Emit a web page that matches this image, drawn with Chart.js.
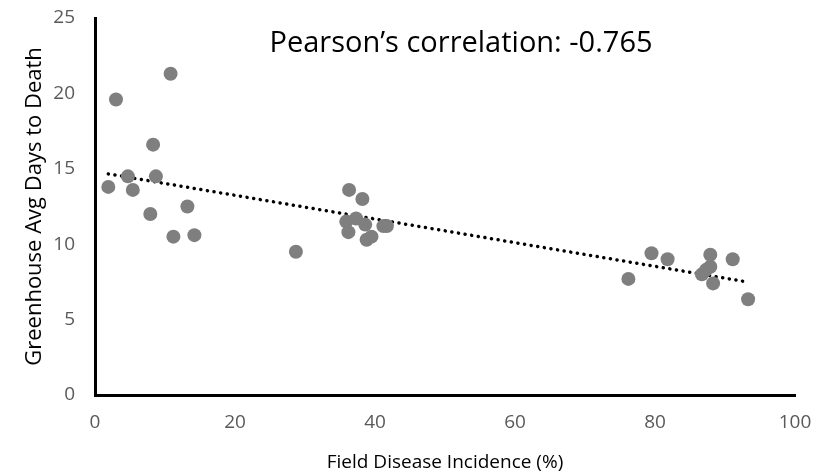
<!DOCTYPE html>
<html>
<head>
<meta charset="utf-8">
<title>Field vs Greenhouse</title>
<script src="https://cdn.jsdelivr.net/npm/chart.js@4"></script>
<style>
  html, body { margin: 0; padding: 0; background: #fff; }
  #wrap { width: 832px; height: 474px; }
</style>
</head>
<body>
<div id="wrap"><canvas id="chart" width="832" height="474"></canvas></div>
<script>
  // Data
  const incidence = [1.9, 3.0, 4.7, 5.4, 7.9, 8.3, 8.7, 10.8, 11.2, 13.2, 14.2,
    28.7, 36.3, 38.2, 35.9, 36.2, 37.3, 38.6, 38.8, 39.5, 41.2, 41.7,
    76.2, 79.5, 81.8, 86.7, 87.3, 87.9, 87.9, 88.3, 91.1, 93.3];
  const daysToDeath = [13.8, 19.6, 14.5, 13.6, 12.0, 16.6, 14.5, 21.3, 10.5, 12.5, 10.6,
    9.5, 13.6, 13.0, 11.5, 10.8, 11.7, 11.3, 10.3, 10.5, 11.2, 11.2,
    7.7, 9.4, 9.0, 8.0, 8.3, 8.5, 9.3, 7.4, 9.0, 6.35];
  const xTicks = [0, 20, 40, 60, 80, 100];
  const yTicks = [0, 5, 10, 15, 20, 25];
  const note = 'Pearson\u2019s correlation: -0.765';

  const points = incidence.map((x, i) => ({ x, y: daysToDeath[i] }));

  // least-squares fit for the dotted trendline
  function linearFit(xs, ys) {
    const n = xs.length;
    const mx = xs.reduce((s, v) => s + v, 0) / n;
    const my = ys.reduce((s, v) => s + v, 0) / n;
    let sxy = 0, sxx = 0;
    xs.forEach((x, i) => { sxy += (x - mx) * (ys[i] - my); sxx += (x - mx) * (x - mx); });
    const b = sxy / sxx;
    return { a: my - b * mx, b };
  }
  const fit = linearFit(incidence, daysToDeath);
  const xMin = Math.min(...incidence), xMax = Math.max(...incidence);
  const trend = [xMin, xMax].map(x => ({ x, y: fit.a + fit.b * x }));

  const fontFam = '"Open Sans", "DejaVu Sans", sans-serif';

  const notePlugin = {
    id: 'note',
    afterDraw(chart) {
      const ctx = chart.ctx;
      ctx.save();
      ctx.font = '29px ' + fontFam;
      ctx.fillStyle = '#000';
      ctx.textAlign = 'center';
      ctx.textBaseline = 'middle';
      ctx.fillText(note, 461, 44);
      ctx.restore();
    }
  };

  new Chart(document.getElementById('chart').getContext('2d'), {
    type: 'scatter',
    data: {
      datasets: [
        {
          label: 'data',
          data: points,
          backgroundColor: '#7f7f7f',
          borderColor: '#7f7f7f',
          pointRadius: 7,
          pointHoverRadius: 7,
          borderWidth: 0
        },
        {
          label: 'trend',
          type: 'line',
          data: trend,
          showLine: true,
          borderColor: '#000',
          borderWidth: 3.5,
          borderDash: [0.1, 6.6],
          borderCapStyle: 'round',
          pointRadius: 0,
          fill: false
        }
      ]
    },
    options: {
      responsive: false,
      animation: false,
      layout: { padding: { top: 18, right: 37, left: 22, bottom: 0 } },
      plugins: {
        legend: { display: false },
        tooltip: { enabled: false }
      },
      scales: {
        x: {
          type: 'linear',
          min: 0, max: 100,
          afterBuildTicks: s => { s.ticks = xTicks.map(v => ({ value: v })); },
          afterFit: s => { s.height = 79; },
          grid: { display: false },
          border: { display: true, color: '#000', width: 3 },
          ticks: { color: '#595959', font: { family: fontFam, size: 19 }, padding: 8 },
          title: {
            display: true,
            text: 'Field Disease Incidence (%)',
            color: '#000',
            font: { family: fontFam, size: 19 },
            padding: { top: 3, bottom: 0 }
          }
        },
        y: {
          type: 'linear',
          min: 0, max: 25,
          afterBuildTicks: s => { s.ticks = yTicks.map(v => ({ value: v })); },
          afterFit: s => { s.width = 73; s.paddingTop = 0; },
          grid: { display: false },
          border: { display: true, color: '#000', width: 3 },
          ticks: { color: '#595959', font: { family: fontFam, size: 19 }, padding: 12 },
          title: {
            display: true,
            text: 'Greenhouse Avg Days to Death',
            color: '#000',
            font: { family: fontFam, size: 22 },
            padding: { top: 0, bottom: 4 }
          }
        }
      }
    },
    plugins: [notePlugin]
  });
</script>
</body>
</html>
